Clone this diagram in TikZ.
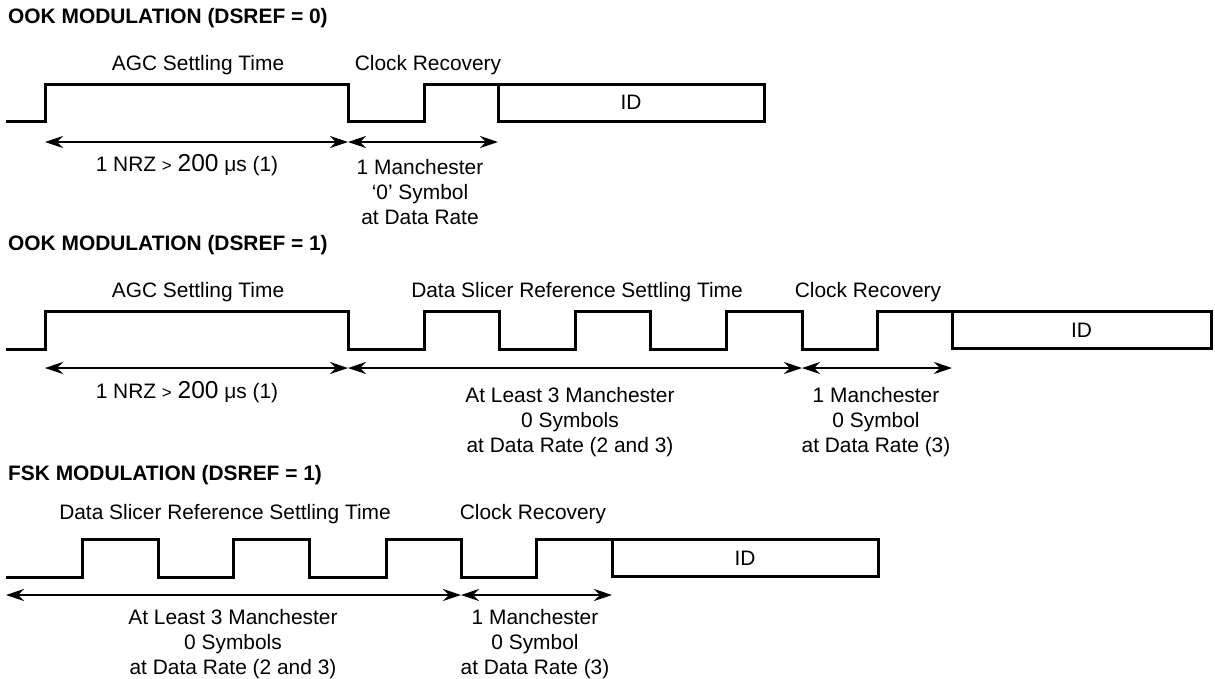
\documentclass[tikz,border=0pt]{standalone}
\usepackage{fontspec}
\setmainfont{Liberation Sans}
\usetikzlibrary{arrows.meta}
\begin{document}
\begin{tikzpicture}[x=1pt,y=-1pt,
  sig/.style={line width=3pt, line join=miter},
  dimarrow/.style={line width=1.7pt, {Stealth[length=18pt,width=12pt,inset=6pt]}-{Stealth[length=18pt,width=12pt,inset=6pt]}},
  lbl/.style={font=\fontsize{20.9}{25}\selectfont, inner sep=0pt},
  multi/.style={lbl, align=center},
  head/.style={font=\bfseries\fontsize{20.9}{25}\selectfont, anchor=west, inner sep=0pt},
  idbox/.style={draw, line width=3pt, minimum height=37pt, inner sep=0pt, font=\fontsize{20.9}{25}\selectfont}]
\useasboundingbox (0,0) rectangle (1215,678);
\newcommand{\nrz}{1 NRZ {\fontsize{17}{25}\selectfont >} {\fontsize{24.5}{25}\selectfont 200} μs (1)}

% ---------- OOK DSREF = 0 ----------
\node[head] (h1) at (8,18) {OOK MODULATION (DSREF = 0)};
\node[lbl] (t1a) at (198,65) {AGC Settling Time};
\node[lbl] (t1b) at (428,65) {Clock Recovery};
\draw[sig] (6,121) -- (45,121) -- (45,84) -- (348,84) -- (348,121) -- (424,121) -- (424,84) -- (498,84) -- (498,121);
\node[idbox, minimum width=266pt] (id1) at (631,102.5) {ID};
\coordinate (p1a) at (45,142);
\coordinate (p1b) at (348,142);
\coordinate (p1c) at (498,142);
\draw[dimarrow] (p1a) -- (p1b);
\draw[dimarrow] (p1b) -- (p1c);
\node[lbl] (l1a) at (187,165) {\nrz};
\node[multi] (l1b) at (420,192) {1 Manchester\\‘0’ Symbol\\at Data Rate};

% ---------- OOK DSREF = 1 ----------
\node[head] (h2) at (8,245) {OOK MODULATION (DSREF = 1)};
\node[lbl] (t2a) at (198,292) {AGC Settling Time};
\node[lbl] (t2b) at (577,292) {Data Slicer Reference Settling Time};
\node[lbl] (t2c) at (868,292) {Clock Recovery};
\draw[sig] (6,349) -- (45,349) -- (45,311) -- (348,311) -- (348,349) -- (424,349) -- (424,311) -- (499,311) -- (499,349) -- (575,349) -- (575,311) -- (650,311) -- (650,349) -- (726,349) -- (726,311) -- (802,311) -- (802,349) -- (877,349) -- (877,311) -- (952,311) -- (952,349);
\node[idbox, minimum width=259pt] (id2) at (1081.5,330) {ID};
\coordinate (p2a) at (45,368);
\coordinate (p2b) at (348,368);
\coordinate (p2c) at (802,368);
\coordinate (p2d) at (952,368);
\draw[dimarrow] (p2a) -- (p2b);
\draw[dimarrow] (p2b) -- (p2c);
\draw[dimarrow] (p2c) -- (p2d);
\node[lbl] (l2a) at (187,392) {\nrz};
\node[multi] (l2b) at (570,422) {At Least 3 Manchester\\0 Symbols\\at Data Rate (2 and 3)};
\node[multi] (l2c) at (876,422) {1 Manchester\\0 Symbol\\at Data Rate (3)};

% ---------- FSK DSREF = 1 ----------
\node[head] (h3) at (8,475) {FSK MODULATION (DSREF = 1)};
\node[lbl] (t3a) at (225,514) {Data Slicer Reference Settling Time};
\node[lbl] (t3b) at (533,514) {Clock Recovery};
\draw[sig] (6,577) -- (82,577) -- (82,539) -- (158,539) -- (158,577) -- (233,577) -- (233,539) -- (309,539) -- (309,577) -- (386,577) -- (386,539) -- (461,539) -- (461,577) -- (536,577) -- (536,539) -- (612,539) -- (612,577);
\node[idbox, minimum width=266pt] (id3) at (745,558) {ID};
\coordinate (p3a) at (6,595);
\coordinate (p3b) at (461,595);
\coordinate (p3c) at (612,595);
\draw[dimarrow] (p3a) -- (p3b);
\draw[dimarrow] (p3b) -- (p3c);
\node[multi] (l3a) at (233,644) {At Least 3 Manchester\\0 Symbols\\at Data Rate (2 and 3)};
\node[multi] (l3b) at (535,644) {1 Manchester\\0 Symbol\\at Data Rate (3)};
\end{tikzpicture}
\end{document}
